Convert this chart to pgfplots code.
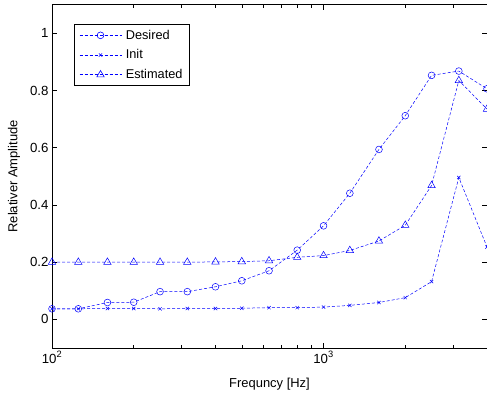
\documentclass[border=0pt]{standalone}
\usepackage{pgfplots}
\usepackage{pgfplotstable}
\pgfplotsset{compat=1.18}
\usepackage{fontspec}
\setmainfont{Liberation Sans}

\pgfplotstableread{
f des init est
100 0.037 0.037 0.200
125 0.037 0.037 0.200
160 0.059 0.038 0.200
200 0.060 0.038 0.200
250 0.097 0.037 0.200
315 0.097 0.038 0.200
400 0.114 0.038 0.201
500 0.135 0.039 0.202
630 0.170 0.041 0.205
800 0.242 0.041 0.217
1000 0.327 0.043 0.223
1250 0.441 0.049 0.241
1600 0.594 0.059 0.274
2000 0.712 0.076 0.329
2500 0.853 0.132 0.468
3150 0.868 0.496 0.835
4000 0.806 0.253 0.735
}\data

\begin{document}
\begin{tikzpicture}
\begin{axis}[
  xmode=log, scale only axis, width=435bp, height=343.3bp,
  xmin=100, xmax=4000, ymin=-0.1, ymax=1.1,
  xtick={100,1000}, xticklabels={10\textsuperscript{2},10\textsuperscript{3}},
  minor xtick={200,300,400,500,600,700,800,900,2000,3000,4000},
  ytick={0,0.2,0.4,0.6,0.8,1}, yticklabels={0,0.2,0.4,0.6,0.8,1},
  tick align=inside, major tick length=5bp, minor tick length=3bp,
  tick style={black, line width=0.5bp},
  axis line style={black, line width=0.6bp},
  ticklabel style={font=\fontsize{13.3}{15}\selectfont},
  label style={font=\fontsize{13}{15}\selectfont},
  xlabel={Frequncy [Hz]}, ylabel={Relativer Amplitude},
  xlabel style={at={(axis description cs:0.5,-0.1136)}, anchor=base},
  ylabel style={at={(axis description cs:-0.0874,0.5)}, anchor=center},
  legend style={at={(0.0506,0.943)}, anchor=north west,
    font=\fontsize{12.8}{14}\selectfont, inner xsep=5bp, inner ysep=3.5bp, row sep=5bp,
    column sep=2bp},
  legend cell align=left,
  legend image code/.code={\draw[blue, line width=0.6bp, dash pattern=on 3bp off 2bp, mark repeat=2,mark phase=2] plot coordinates {(0bp,0bp) (21bp,0bp) (42bp,0bp)};},
  every axis plot/.append style={blue, line width=0.5bp, dash pattern=on 3bp off 2bp},
]
\addplot[mark=o, mark size=3.4bp, mark options={solid}] table[x=f,y=des] {\data};
\addlegendentry{Desired}
\addplot[mark=x, mark size=2.3bp, mark options={solid}] table[x=f,y=init] {\data};
\addlegendentry{Init}
\addplot[mark=triangle, mark size=4.3bp, mark options={solid}] table[x=f,y=est] {\data};
\addlegendentry{Estimated}
\end{axis}
\pgfresetboundingbox
\path ([shift={(-52bp,-46bp)}]current axis.south west) rectangle ([shift={(0bp,4.7bp)}]current axis.north east);
\end{tikzpicture}
\end{document}
